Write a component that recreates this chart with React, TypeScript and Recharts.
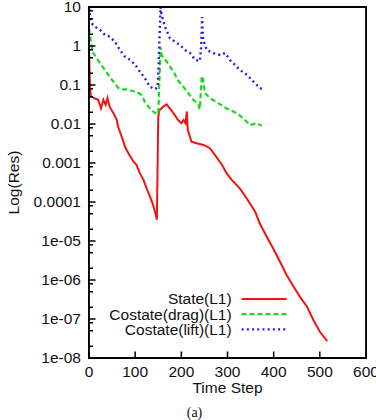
import React from 'react';
import { LineChart, Line, XAxis, YAxis } from 'recharts';

const stateSteps = [0, 1, 2, 4, 6, 13, 20, 26, 31, 36, 40, 45, 53, 60, 63, 71, 78, 85, 96, 103, 110, 118, 125, 132, 139, 145, 147, 150, 152, 161, 168, 175, 183, 193, 200, 205, 209, 212, 214, 222, 233, 248, 262, 273, 288, 298, 309, 327, 341, 360, 370, 385, 399, 414, 428, 443, 457, 472, 486, 500, 516];
const stateRes = [1.0, 0.3, 0.1, 0.05, 0.05, 0.045, 0.042, 0.025, 0.042, 0.031, 0.046, 0.027, 0.019, 0.013, 0.0085, 0.0047, 0.0026, 0.0018, 0.0011, 0.0009, 0.00055, 0.00037, 0.00022, 0.00014, 0.000083, 0.000045, 0.000035, 0.015, 0.022, 0.028, 0.032, 0.025, 0.019, 0.0126, 0.0105, 0.0126, 0.0105, 0.021, 0.007, 0.0035, 0.0032, 0.0029, 0.0024, 0.0016, 0.0009, 0.00055, 0.00037, 0.00022, 0.000127, 0.000056, 0.000028, 0.0000128, 0.0000064, 0.0000029, 0.00000134, 6.8e-7, 3.7e-7, 2.1e-7, 9.4e-8, 4.7e-8, 2.7e-8];

const dragSteps = [0, 2, 6, 9, 17, 24, 35, 45, 56, 63, 71, 82, 92, 103, 114, 121, 132, 143, 150, 155, 157, 168, 183, 193, 204, 215, 226, 237, 240, 244, 246, 251, 262, 277, 298, 320, 334, 349, 363, 374];
const dragRes = [2.8, 1.9, 0.95, 0.66, 0.48, 0.36, 0.24, 0.16, 0.11, 0.085, 0.077, 0.077, 0.071, 0.067, 0.055, 0.037, 0.025, 0.019, 0.018, 0.95, 0.59, 0.40, 0.22, 0.13, 0.091, 0.062, 0.042, 0.031, 0.024, 0.15, 0.17, 0.062, 0.046, 0.036, 0.025, 0.019, 0.014, 0.0094, 0.0105, 0.009];

const liftSteps = [0, 2, 6, 13, 24, 35, 45, 56, 67, 78, 89, 100, 110, 121, 132, 143, 149, 155, 157, 165, 175, 186, 197, 208, 219, 230, 240, 243, 245, 247, 255, 269, 284, 295, 305, 316, 327, 338, 349, 360, 370, 375];
const liftRes = [9.4, 6.2, 3.8, 3.1, 2.6, 1.9, 1.74, 1.29, 0.79, 0.53, 0.44, 0.33, 0.22, 0.15, 0.091, 0.078, 0.089, 10, 6.2, 3.1, 1.6, 1.29, 1.06, 0.79, 0.66, 0.44, 0.41, 0.95, 5.5, 1.5, 0.79, 0.66, 0.59, 0.66, 0.44, 0.33, 0.24, 0.20, 0.15, 0.11, 0.083, 0.079];

const seriesNames = ['State(L1)', 'Costate(drag)(L1)', 'Costate(lift)(L1)'];
const xTicks = [0, 100, 200, 300, 400, 500, 600];
const xTickLabels = ['0', '100', '200', '300', '400', '500', '600'];
const yMajorTicks = [1e-8, 1e-7, 1e-6, 1e-5, 1e-4, 1e-3, 1e-2, 1e-1, 1, 10];
const yTickLabels = ['1e-08', '1e-07', '1e-06', '1e-05', '0.0001', '0.001', '0.01', '0.1', '1', '10'];
const yMinorFactors = [2, 5, 8];

const FONT = 'Liberation Sans, Arial, Helvetica, sans-serif';
const FS = 15.5;
const TEXT = '#111';
const AXIS = '#000';

const toPoints = (xs: number[], ys: number[]) => xs.map((x, i) => ({ x, y: ys[i] }));

const yAllTicks: number[] = [];
yMajorTicks.forEach((m, i) => {
  yAllTicks.push(m);
  if (i < yMajorTicks.length - 1) yMinorFactors.forEach((f) => yAllTicks.push(m * f));
});

const majorIndex = (v: number) =>
  yMajorTicks.findIndex((m) => Math.abs(Math.log10(v) - Math.log10(m)) < 1e-6);

const series = [
  { name: seriesNames[0], data: toPoints(stateSteps, stateRes), color: '#f01414', dash: undefined as string | undefined, width: 2 },
  { name: seriesNames[1], data: toPoints(dragSteps, dragRes), color: '#1ad81a', dash: '5 3', width: 2.2 },
  { name: seriesNames[2], data: toPoints(liftSteps, liftRes), color: '#2222e0', dash: '2 3.2', width: 2.4 },
];

const LeftTick = (props: any) => {
  const x = Number(props.x);
  const y = Number(props.y);
  const idx = majorIndex(props.payload.value);
  const major = idx >= 0;
  return (
    <g>
      <line x1={x} x2={x + (major ? 6.5 : 4)} y1={y} y2={y} stroke={AXIS} strokeWidth={1.5} />
      {major && (
        <text x={x - 8} y={y} dy="0.35em" textAnchor="end" fontFamily={FONT} fontSize={FS} fill={TEXT}>
          {yTickLabels[idx]}
        </text>
      )}
    </g>
  );
};

const RightTick = (props: any) => {
  const x = Number(props.x);
  const y = Number(props.y);
  const major = majorIndex(props.payload.value) >= 0;
  return <line x1={x} x2={x - (major ? 6.5 : 4)} y1={y} y2={y} stroke={AXIS} strokeWidth={1.5} />;
};

const BottomTick = (props: any) => {
  const x = Number(props.x);
  const y = Number(props.y);
  const idx = xTicks.indexOf(props.payload.value);
  return (
    <g>
      <line x1={x} x2={x} y1={y} y2={y - 6.5} stroke={AXIS} strokeWidth={1.5} />
      <text x={x} y={y + 19} textAnchor="middle" fontFamily={FONT} fontSize={FS} fill={TEXT}>
        {xTickLabels[idx]}
      </text>
    </g>
  );
};

const TopTick = (props: any) => {
  const x = Number(props.x);
  const y = Number(props.y);
  return <line x1={x} x2={x} y1={y} y2={y + 6.5} stroke={AXIS} strokeWidth={1.5} />;
};

const XLabel = (props: any) => {
  const vb = props.viewBox || { x: 89, y: 358, width: 277, height: 40 };
  const cx = vb.x + vb.width / 2;
  return (
    <g>
      <text x={cx} y={vb.y + 35} textAnchor="middle" fontFamily={FONT} fontSize={FS} fill={TEXT}>
        Time Step
      </text>
      <text x={cx - 33} y={vb.y + 59} textAnchor="middle" fontFamily="Liberation Serif, Times New Roman, serif" fontSize={14} fill={TEXT}>
        (a)
      </text>
      {series.map((s, i) => {
        const yy = vb.y - 59 + i * 15.2;
        const right = vb.x + vb.width * 0.515;
        return (
          <g key={s.name}>
            <text x={right} y={yy} dy="0.35em" textAnchor="end" fontFamily={FONT} fontSize={FS} fill={TEXT}>
              {s.name}
            </text>
            <line x1={right + 10} x2={right + 55} y1={yy} y2={yy} stroke={s.color} strokeWidth={s.width} strokeDasharray={s.dash} />
          </g>
        );
      })}
    </g>
  );
};

const YLabel = (props: any) => {
  const vb = props.viewBox || { x: 29, y: 7, width: 60, height: 351 };
  const x = vb.x - 15;
  const y = vb.y + vb.height / 2;
  return (
    <text x={x} y={y} transform={`rotate(-90, ${x}, ${y})`} textAnchor="middle" dy="0.35em" fontFamily={FONT} fontSize={FS} fill={TEXT}>
      Log(Res)
    </text>
  );
};

const axisLineStyle = { stroke: AXIS, strokeWidth: 1.8 };

export default function App() {
  return (
    <div style={{ position: 'absolute', left: 0, top: 0, width: 376, height: 420, background: '#fff' }}>
      <LineChart width={376} height={420} margin={{ top: 2, right: 9, bottom: 22, left: 29 }}>
        <XAxis
          dataKey="x"
          type="number"
          orientation="bottom"
          domain={[0, 600]}
          ticks={xTicks}
          interval={0}
          height={40}
          tickSize={0}
          tickMargin={0}
          tickLine={false}
          tick={<BottomTick />}
          stroke={AXIS}
          axisLine={axisLineStyle}
          label={{ content: <XLabel /> } as any}
        />
        <XAxis
          xAxisId="t"
          dataKey="x"
          type="number"
          orientation="top"
          domain={[0, 600]}
          ticks={xTicks}
          interval={0}
          height={5}
          tickSize={0}
          tickMargin={0}
          tickLine={false}
          tick={<TopTick />}
          stroke={AXIS}
          axisLine={axisLineStyle}
        />
        <YAxis
          type="number"
          scale="log"
          domain={[1e-8, 10]}
          ticks={yAllTicks}
          interval={0}
          width={60}
          tickSize={0}
          tickMargin={0}
          tickLine={false}
          tick={<LeftTick />}
          stroke={AXIS}
          axisLine={axisLineStyle}
          label={{ content: <YLabel /> } as any}
        />
        <YAxis
          yAxisId="r"
          type="number"
          scale="log"
          orientation="right"
          domain={[1e-8, 10]}
          ticks={yAllTicks}
          interval={0}
          width={1}
          tickSize={0}
          tickMargin={0}
          tickLine={false}
          tick={<RightTick />}
          stroke={AXIS}
          axisLine={axisLineStyle}
        />
        {series.map((s) => (
          <Line
            key={s.name}
            data={s.data}
            dataKey="y"
            name={s.name}
            type="linear"
            stroke={s.color}
            strokeWidth={s.width}
            strokeDasharray={s.dash}
            dot={false}
            activeDot={false}
            isAnimationActive={false}
          />
        ))}
      </LineChart>
      <div
        style={{
          position: 'absolute',
          left: 88,
          top: 6,
          width: 277,
          height: 351,
          border: '1.6px solid #000',
          boxSizing: 'content-box',
          pointerEvents: 'none',
        }}
      />
    </div>
  );
}
